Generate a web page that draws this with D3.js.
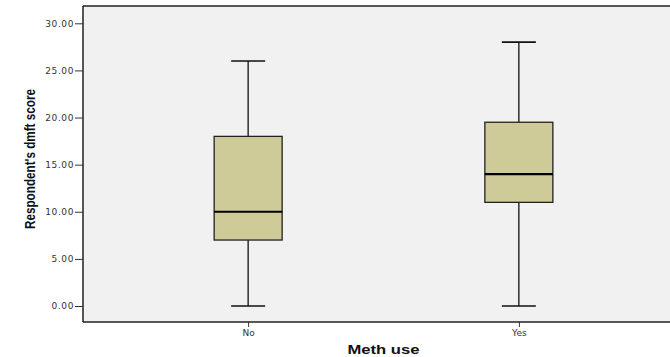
<!DOCTYPE html>
<html><head><meta charset="utf-8">
<script src="https://cdn.jsdelivr.net/npm/d3@7"></script>
<style>body{margin:0;background:#fff;}svg{display:block;}</style>
</head><body>
<script>
const categories = ["No", "Yes"];
const whiskerLow = [0, 0];
const q1 = [7, 11];
const median = [10, 14];
const q3 = [18, 19.5];
const whiskerHigh = [26, 28];
const yTicks = [0, 5, 10, 15, 20, 25, 30];

const W = 670, H = 357;
const m = {left: 83, top: 6, right: 684, bottom: 322};
const svg = d3.select("body").append("svg").attr("width", W).attr("height", H);

svg.append("rect").attr("x", m.left).attr("y", m.top)
  .attr("width", m.right - m.left).attr("height", m.bottom - m.top)
  .attr("fill", "#f0f1f0");

const x = d3.scalePoint().domain(categories).range([m.left, m.right]).padding(0.61);
const y = d3.scaleLinear().domain([0, 30]).range([306, 23.3]);

const boxW = 68, capW = 34;
const data = categories.map((c, i) => ({c, lo: whiskerLow[i], q1: q1[i], med: median[i], q3: q3[i], hi: whiskerHigh[i]}));

const g = svg.append("g");
data.forEach(d => {
  const cx = x(d.c);
  g.append("line").attr("x1", cx).attr("x2", cx).attr("y1", y(d.hi)).attr("y2", y(d.q3)).attr("stroke", "#111").attr("stroke-width", 1.3);
  g.append("line").attr("x1", cx).attr("x2", cx).attr("y1", y(d.q1)).attr("y2", y(d.lo)).attr("stroke", "#111").attr("stroke-width", 1.3);
  g.append("line").attr("x1", cx - capW/2).attr("x2", cx + capW/2).attr("y1", y(d.hi)).attr("y2", y(d.hi)).attr("stroke", "#111").attr("stroke-width", 1.6);
  g.append("line").attr("x1", cx - capW/2).attr("x2", cx + capW/2).attr("y1", y(d.lo)).attr("y2", y(d.lo)).attr("stroke", "#111").attr("stroke-width", 1.6);
  g.append("rect").attr("x", cx - boxW/2).attr("y", y(d.q3)).attr("width", boxW).attr("height", y(d.q1) - y(d.q3))
    .attr("fill", "#cfcb99").attr("stroke", "#222").attr("stroke-width", 1.3);
  g.append("line").attr("x1", cx - boxW/2).attr("x2", cx + boxW/2).attr("y1", y(d.med)).attr("y2", y(d.med)).attr("stroke", "#000").attr("stroke-width", 2.2);
});

// axes
const yAxis = svg.append("g").attr("transform", `translate(${m.left},0)`)
  .call(d3.axisLeft(y).tickValues(yTicks).tickFormat(d3.format(".2f")).tickSize(8).tickPadding(1));
yAxis.select(".domain").remove();
yAxis.selectAll(".tick line").attr("stroke", "#333");
yAxis.selectAll("text").attr("font-family", "DejaVu Sans, sans-serif").attr("font-size", 9).attr("letter-spacing", 0.6).attr("fill", "#333");

const xAxis = svg.append("g").attr("transform", `translate(0,${m.bottom})`)
  .call(d3.axisBottom(x).tickSize(5).tickPadding(3));
xAxis.select(".domain").remove();
xAxis.selectAll(".tick line").attr("stroke", "#333");
xAxis.selectAll("text").attr("font-family", "DejaVu Sans, sans-serif").attr("font-size", 9).attr("fill", "#333");

// frame lines (left and top, bottom)
svg.append("line").attr("x1", m.left).attr("x2", m.left).attr("y1", m.top).attr("y2", m.bottom).attr("stroke", "#222").attr("stroke-width", 1.5);
svg.append("line").attr("x1", m.left).attr("x2", m.right).attr("y1", m.top).attr("y2", m.top).attr("stroke", "#222").attr("stroke-width", 1.5);
svg.append("line").attr("x1", m.left).attr("x2", m.right).attr("y1", m.bottom).attr("y2", m.bottom).attr("stroke", "#222").attr("stroke-width", 1.5);

svg.append("text").attr("x", (m.left + m.right) / 2).attr("y", 354)
  .attr("text-anchor", "middle").attr("font-family", "Liberation Sans, Arial, sans-serif")
  .attr("font-weight", "bold").attr("font-size", 13).attr("fill", "#111")
  .attr("textLength", 72).attr("lengthAdjust", "spacingAndGlyphs").text("Meth use");

svg.append("text").attr("transform", "translate(35,159) rotate(-90)")
  .attr("text-anchor", "middle").attr("font-family", "Liberation Sans, Arial, sans-serif")
  .attr("font-weight", "bold").attr("font-size", 14).attr("fill", "#111")
  .attr("textLength", 140).attr("lengthAdjust", "spacingAndGlyphs").text("Respondent's dmft score");
</script>
</body></html>
